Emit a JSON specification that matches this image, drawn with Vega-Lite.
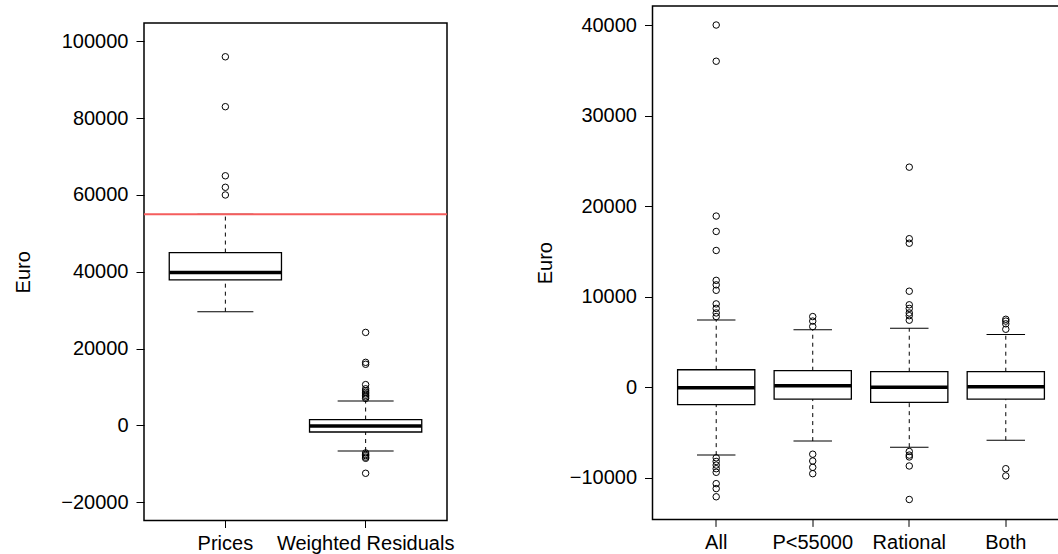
{
  "$schema": "https://vega.github.io/schema/vega-lite/v6.json",
  "padding": {"left": 12, "top": 5, "right": 0, "bottom": 0},
  "background": "white",
  "config": {
    "font": "Liberation Sans",
    "view": {"stroke": "black", "strokeWidth": 1.5, "fill": "white"},
    "axis": {
      "labelFont": "Liberation Sans", "labelFontSize": 20, "labelColor": "black",
      "titleFont": "Liberation Sans", "titleFontSize": 20, "titleFontWeight": "normal", "titleColor": "black",
      "tickColor": "black", "tickWidth": 1, "domain": false, "grid": false
    },
    "axisX": {"tickSize": 7, "labelPadding": 6, "labelAngle": 0},
    "axisY": {"tickSize": 8, "labelPadding": 8}
  },
  "datasets": {
    "left_boxes": [
      {"group": "Prices", "lower": 29600, "q1": 37900, "median": 39800, "q3": 45000, "upper": 55000},
      {"group": "Weighted Residuals", "lower": -6700, "q1": -1740, "median": -150, "q3": 1500, "upper": 6350}
    ],
    "left_outliers": [
      {"group": "Prices", "value": 96000}, {"group": "Prices", "value": 83000}, {"group": "Prices", "value": 65000},
      {"group": "Prices", "value": 62000}, {"group": "Prices", "value": 60000},
      {"group": "Weighted Residuals", "value": 24200}, {"group": "Weighted Residuals", "value": 16400},
      {"group": "Weighted Residuals", "value": 15900}, {"group": "Weighted Residuals", "value": 10600},
      {"group": "Weighted Residuals", "value": 9500}, {"group": "Weighted Residuals", "value": 9000},
      {"group": "Weighted Residuals", "value": 8600}, {"group": "Weighted Residuals", "value": 8200},
      {"group": "Weighted Residuals", "value": 7800}, {"group": "Weighted Residuals", "value": 7400},
      {"group": "Weighted Residuals", "value": 7000}, {"group": "Weighted Residuals", "value": -7200},
      {"group": "Weighted Residuals", "value": -7600}, {"group": "Weighted Residuals", "value": -7900},
      {"group": "Weighted Residuals", "value": -8300}, {"group": "Weighted Residuals", "value": -8600},
      {"group": "Weighted Residuals", "value": -12500}
    ],
    "thresholds": [
      {"threshold": 55000}
    ],
    "right_boxes": [
      {"group": "All", "lower": -7500, "q1": -1930, "median": -60, "q3": 1930, "upper": 7410},
      {"group": "P<55000", "lower": -5950, "q1": -1310, "median": 160, "q3": 1820, "upper": 6350},
      {"group": "Rational", "lower": -6620, "q1": -1680, "median": 0, "q3": 1710, "upper": 6520},
      {"group": "Both", "lower": -5850, "q1": -1310, "median": 50, "q3": 1710, "upper": 5830}
    ],
    "right_outliers": [
      {"group": "All", "value": 40000}, {"group": "All", "value": 36000}, {"group": "All", "value": 18900},
      {"group": "All", "value": 17200}, {"group": "All", "value": 15100}, {"group": "All", "value": 11800},
      {"group": "All", "value": 11300}, {"group": "All", "value": 10700}, {"group": "All", "value": 9200},
      {"group": "All", "value": 8700}, {"group": "All", "value": 8200}, {"group": "All", "value": 7800},
      {"group": "All", "value": -7800}, {"group": "All", "value": -8200}, {"group": "All", "value": -8600},
      {"group": "All", "value": -9000}, {"group": "All", "value": -9400}, {"group": "All", "value": -10650},
      {"group": "All", "value": -11200}, {"group": "All", "value": -12100},
      {"group": "P<55000", "value": 7800}, {"group": "P<55000", "value": 7300}, {"group": "P<55000", "value": 6700},
      {"group": "P<55000", "value": -7400}, {"group": "P<55000", "value": -8150}, {"group": "P<55000", "value": -8850},
      {"group": "P<55000", "value": -9550},
      {"group": "Rational", "value": 24300}, {"group": "Rational", "value": 16400}, {"group": "Rational", "value": 15900},
      {"group": "Rational", "value": 10600}, {"group": "Rational", "value": 9100}, {"group": "Rational", "value": 8700},
      {"group": "Rational", "value": 8200}, {"group": "Rational", "value": 7900}, {"group": "Rational", "value": 7400},
      {"group": "Rational", "value": -7100}, {"group": "Rational", "value": -7500}, {"group": "Rational", "value": -7700},
      {"group": "Rational", "value": -8700}, {"group": "Rational", "value": -12400},
      {"group": "Both", "value": 7500}, {"group": "Both", "value": 7300}, {"group": "Both", "value": 7000},
      {"group": "Both", "value": 6400}, {"group": "Both", "value": -9000}, {"group": "Both", "value": -9800}
    ]
  },
  "spacing": 78.5,
  "hconcat": [
    {
      "spacing": 0,
      "vconcat": [
        {
          "width": 100,
          "height": 16,
          "view": {"stroke": null, "fill": null},
          "data": {"values": []},
          "mark": {"type": "point", "opacity": 0},
          "encoding": {}
        },
        {
          "width": 303,
          "height": 497.5,
          "encoding": {
            "y": {"type": "quantitative", "title": "Euro",
                  "scale": {"domain": [-24800, 104800], "nice": false, "zero": false},
                  "axis": {"values": [-20000, 0, 20000, 40000, 60000, 80000, 100000], "format": "d", "titlePadding": 27.5}}
          },
          "layer": [
            {"data": {"name": "left_boxes"}, "mark": {"type": "rule", "color": "black", "strokeWidth": 1, "strokeDash": [4, 4]},
             "encoding": {"x": {"field": "group", "type": "nominal", "title": null, "scale": {"domain": ["Prices", "Weighted Residuals"], "paddingInner": 0, "paddingOuter": 0.08}},
                          "y": {"field": "q3"}, "y2": {"field": "upper"}}},
            {"data": {"name": "left_boxes"}, "mark": {"type": "rule", "color": "black", "strokeWidth": 1, "strokeDash": [4, 4]},
             "encoding": {"x": {"field": "group", "type": "nominal", "title": null, "scale": {"domain": ["Prices", "Weighted Residuals"], "paddingInner": 0, "paddingOuter": 0.08}},
                          "y": {"field": "lower"}, "y2": {"field": "q1"}}},
            {"data": {"name": "left_boxes"}, "mark": {"type": "tick", "color": "black", "opacity": 1, "size": 56, "thickness": 1},
             "encoding": {"x": {"field": "group", "type": "nominal", "title": null, "scale": {"domain": ["Prices", "Weighted Residuals"], "paddingInner": 0, "paddingOuter": 0.08}},
                          "y": {"field": "upper"}}},
            {"data": {"name": "left_boxes"}, "mark": {"type": "tick", "color": "black", "opacity": 1, "size": 56, "thickness": 1},
             "encoding": {"x": {"field": "group", "type": "nominal", "title": null, "scale": {"domain": ["Prices", "Weighted Residuals"], "paddingInner": 0, "paddingOuter": 0.08}},
                          "y": {"field": "lower"}}},
            {"data": {"name": "left_boxes"}, "mark": {"type": "bar", "fill": "white", "stroke": "black", "strokeWidth": 1.3, "width": {"band": 0.8}},
             "encoding": {"x": {"field": "group", "type": "nominal", "title": null, "scale": {"domain": ["Prices", "Weighted Residuals"], "paddingInner": 0, "paddingOuter": 0.08}},
                          "y": {"field": "q1"}, "y2": {"field": "q3"}}},
            {"data": {"name": "left_boxes"}, "mark": {"type": "tick", "color": "black", "opacity": 1, "size": 112, "thickness": 3.5},
             "encoding": {"x": {"field": "group", "type": "nominal", "title": null, "scale": {"domain": ["Prices", "Weighted Residuals"], "paddingInner": 0, "paddingOuter": 0.08}},
                          "y": {"field": "median"}}},
            {"data": {"name": "left_outliers"}, "mark": {"type": "point", "shape": "circle", "filled": false, "color": "black", "strokeWidth": 1, "size": 42, "opacity": 1},
             "encoding": {"x": {"field": "group", "type": "nominal", "title": null, "scale": {"domain": ["Prices", "Weighted Residuals"], "paddingInner": 0, "paddingOuter": 0.08}},
                          "y": {"field": "value"}}},
            {"data": {"name": "thresholds"}, "mark": {"type": "rule", "color": "#f55d5d", "strokeWidth": 2},
             "encoding": {"y": {"field": "threshold"}}}
          ]
        }
      ]
    },
    {
      "width": 417,
      "height": 513.4,
      "encoding": {
        "x": {"field": "group", "type": "nominal", "title": null,
              "scale": {"domain": ["All", "P<55000", "Rational", "Both"], "paddingInner": 0, "paddingOuter": 0.16}},
        "y": {"type": "quantitative", "title": "Euro",
              "scale": {"domain": [-14600, 42100], "nice": false, "zero": false},
              "axis": {"values": [-10000, 0, 10000, 20000, 30000, 40000], "format": "d", "titlePadding": 14.2}}
      },
      "layer": [
        {"data": {"name": "right_boxes"}, "mark": {"type": "rule", "color": "black", "strokeWidth": 1, "strokeDash": [4, 4]},
         "encoding": {"y": {"field": "q3"}, "y2": {"field": "upper"}}},
        {"data": {"name": "right_boxes"}, "mark": {"type": "rule", "color": "black", "strokeWidth": 1, "strokeDash": [4, 4]},
         "encoding": {"y": {"field": "lower"}, "y2": {"field": "q1"}}},
        {"data": {"name": "right_boxes"}, "mark": {"type": "tick", "color": "black", "opacity": 1, "size": 38.5, "thickness": 1},
         "encoding": {"y": {"field": "upper"}}},
        {"data": {"name": "right_boxes"}, "mark": {"type": "tick", "color": "black", "opacity": 1, "size": 38.5, "thickness": 1},
         "encoding": {"y": {"field": "lower"}}},
        {"data": {"name": "right_boxes"}, "mark": {"type": "bar", "fill": "white", "stroke": "black", "strokeWidth": 1.3, "width": {"band": 0.8}},
         "encoding": {"y": {"field": "q1"}, "y2": {"field": "q3"}}},
        {"data": {"name": "right_boxes"}, "mark": {"type": "tick", "color": "black", "opacity": 1, "size": 77, "thickness": 3.5},
         "encoding": {"y": {"field": "median"}}},
        {"data": {"name": "right_outliers"}, "mark": {"type": "point", "shape": "circle", "filled": false, "color": "black", "strokeWidth": 1, "size": 42, "opacity": 1},
         "encoding": {"y": {"field": "value"}}}
      ]
    }
  ]
}
